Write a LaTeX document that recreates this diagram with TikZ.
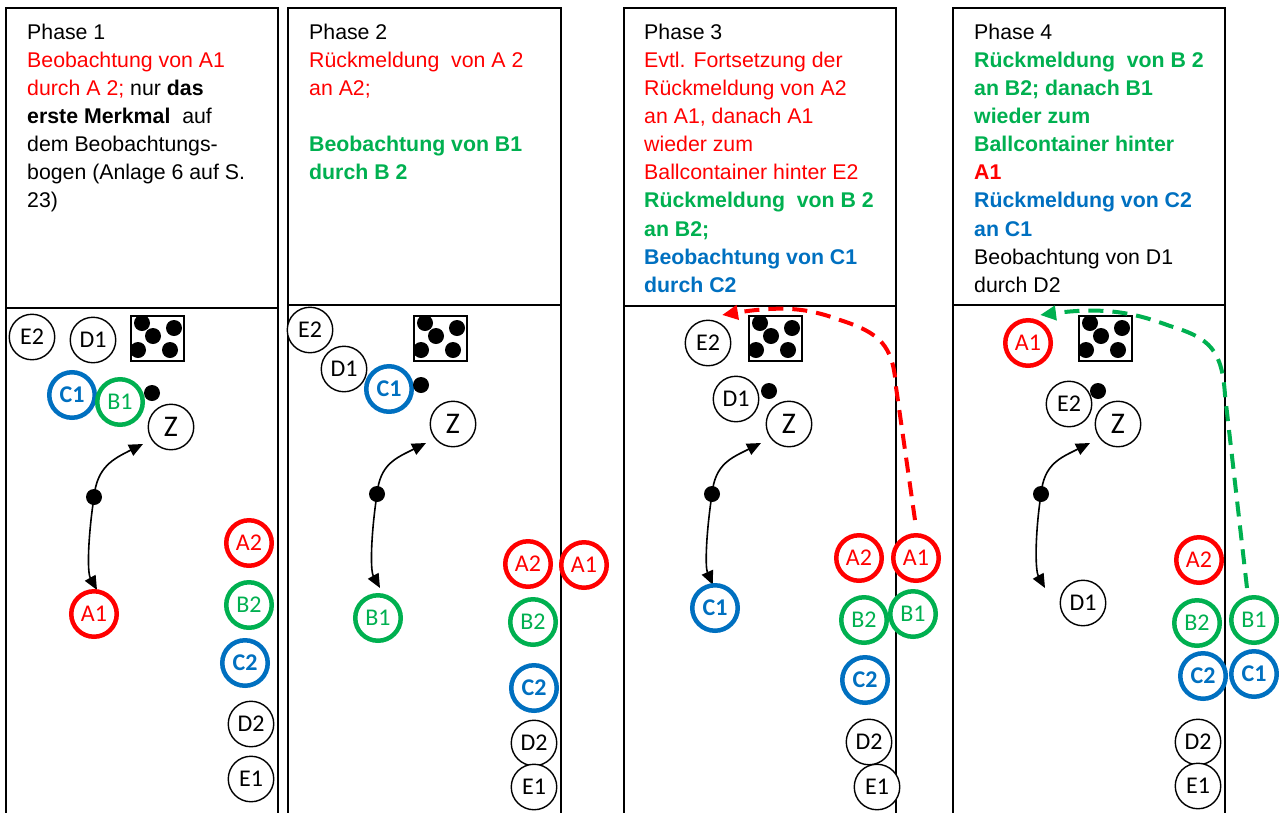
\documentclass[tikz,border=0pt]{standalone}
\usepackage{fontspec}
\setmainfont{Liberation Sans}
\newfontfamily\circfont{Carlito}
\usetikzlibrary{arrows.meta}
\definecolor{tred}{RGB}{255,0,0}
\definecolor{tgreen}{RGB}{0,176,80}
\definecolor{tblue}{RGB}{0,112,192}

% one line of a phase description, k = line number
\newcommand\hdrline[4]{\node[txt] (#1) at (#2,{39.3+28.1*(#3-1)}) {#4};}

\begin{document}
\begin{tikzpicture}[x=1pt,y=-1pt,
  frame/.style={line width=2pt,draw=black},
  txt/.style={anchor=base west,inner sep=0pt,font=\fontsize{21.3}{28}\selectfont},
  pk/.style={circle,draw=black,fill=white,line width=1.4pt,minimum size=45.5pt,inner sep=0pt,
             font=\circfont\fontsize{24}{24}\selectfont},
  pa/.style={pk,draw=tred,text=tred,line width=4.5pt},
  pb/.style={pk,draw=tgreen,text=tgreen,line width=4.5pt},
  pc/.style={pk,draw=tblue,text=tblue,line width=4.5pt,font=\circfont\bfseries\fontsize{24}{24}\selectfont},
  pz/.style={pk,font=\circfont\fontsize{30}{30}\selectfont},
  ball/.style={circle,fill=black,minimum size=16pt,inner sep=0pt},
  boxst/.style={draw=black,fill=white,line width=1.8pt,minimum width=53pt,minimum height=45pt,
                inner sep=0pt,anchor=north west},
  run/.style={line width=1.6pt,-{Triangle[length=14pt,width=12pt]}},
  relay/.style={line width=4pt,dash pattern=on 15pt off 9pt,-{Triangle[length=16pt,width=14pt]}}
]
\useasboundingbox (0,0) rectangle (1279,812);

% ---------- panel frames ----------
\draw[frame] (6,814) -- (6,8) -- (278,8) -- (278,814);
\draw[frame] (6,308) -- (278,308);
\draw[frame] (288,814) -- (288,8) -- (561,8) -- (561,814);
\draw[frame] (288,305) -- (561,305);
\draw[frame] (624,814) -- (624,8) -- (896,8) -- (896,814);
\draw[frame] (624,306) -- (896,306);
\draw[frame] (953,814) -- (953,8) -- (1225,8) -- (1225,814);
\draw[frame] (953,305) -- (1225,305);

% ---------- phase descriptions ----------
\hdrline{t1a}{27}{1}{Phase 1}
\hdrline{t1b}{27}{2}{\color{tred}Beobachtung von A1}
\hdrline{t1c}{27}{3}{{\color{tred}durch A 2;} nur \textbf{das}}
\hdrline{t1d}{27}{4}{\textbf{erste Merkmal}\ \ auf}
\hdrline{t1e}{27}{5}{dem Beobachtungs-}
\hdrline{t1f}{27}{6}{bogen (Anlage 6 auf S.}
\hdrline{t1g}{27}{7}{23)}

\hdrline{t2a}{309}{1}{Phase 2}
\hdrline{t2b}{309}{2}{\color{tred}Rückmeldung\ \ von A 2}
\hdrline{t2c}{309}{3}{\color{tred}an A2;}
\hdrline{t2d}{309}{5}{\color{tgreen}\bfseries Beobachtung von B1}
\hdrline{t2e}{309}{6}{\color{tgreen}\bfseries durch B 2}

\hdrline{t3a}{644}{1}{Phase 3}
\hdrline{t3b}{644}{2}{\color{tred}Evtl. Fortsetzung der}
\hdrline{t3c}{644}{3}{\color{tred}Rückmeldung von A2}
\hdrline{t3d}{644}{4}{\color{tred}an A1, danach A1}
\hdrline{t3e}{644}{5}{\color{tred}wieder zum}
\hdrline{t3f}{644}{6}{\color{tred}Ballcontainer hinter E2}
\hdrline{t3g}{644}{7}{\color{tgreen}\bfseries Rückmeldung\ \ von B 2}
\hdrline{t3h}{644}{8}{\color{tgreen}\bfseries an B2;}
\hdrline{t3i}{644}{9}{\color{tblue}\bfseries Beobachtung von C1}
\hdrline{t3j}{644}{10}{\color{tblue}\bfseries durch C2}

\hdrline{t4a}{974}{1}{Phase 4}
\hdrline{t4b}{974}{2}{\color{tgreen}\bfseries Rückmeldung\ \ von B 2}
\hdrline{t4c}{974}{3}{\color{tgreen}\bfseries an B2; danach B1}
\hdrline{t4d}{974}{4}{\color{tgreen}\bfseries wieder zum}
\hdrline{t4e}{974}{5}{\color{tgreen}\bfseries Ballcontainer hinter}
\hdrline{t4f}{974}{6}{\color{tred}\bfseries A1}
\hdrline{t4g}{974}{7}{\color{tblue}\bfseries Rückmeldung von C2}
\hdrline{t4h}{974}{8}{\color{tblue}\bfseries an C1}
\hdrline{t4i}{974}{9}{Beobachtung von D1}
\hdrline{t4j}{974}{10}{durch D2}

% ---------- ball containers ----------
\foreach \n/\bx in {1/130,2/413,3/748,4/1078}{
  \node[boxst] (box\n) at (\bx,315) {};
  \foreach \dx/\dy in {12/8,44/13,23/21,8/35,40/35}
    \fill ([shift={(\dx,\dy)}]box\n.north west) circle[radius=8pt];
}

% ---------- phase 1 ----------
\node[pk] (p1E2) at (32,337) {E2};
\node[pk] (p1D1) at (93,340) {D1};
\node[pc] (p1C1) at (72,395) {C1};
\node[pb] (p1B1) at (120,402) {B1};
\node[ball] (p1dot) at (152,393) {};
\node[pz] (p1Z) at (171,427) {Z};
\node[ball] (p1run) at (94,497) {};
\coordinate (p1up) at (143,444);
\coordinate (p1dn) at (97,590);
\draw[run] (p1run.center) .. controls +(3,-30) and +(-30,15) .. (p1up);
\draw[run] (p1run.center) .. controls +(-6,40) and +(-10,-18) .. (p1dn);
\node[pa] (p1A1) at (94,614) {A1};
\node[pa] (p1A2) at (249,543) {A2};
\node[pb] (p1B2) at (249,605) {B2};
\node[pc] (p1C2) at (245,663) {C2};
\node[pk] (p1D2) at (251,724) {D2};
\node[pk] (p1E1) at (251,779) {E1};

% ---------- phase 2 ----------
\node[pk] (p2E2) at (310,330) {E2};
\node[pk] (p2D1) at (344,369) {D1};
\node[pc] (p2C1) at (389,389) {C1};
\node[ball] (p2dot) at (421,385) {};
\node[pz] (p2Z) at (453,424) {Z};
\node[ball] (p2run) at (377,494) {};
\coordinate (p2up) at (426,443);
\coordinate (p2dn) at (380,588);
\draw[run] (p2run.center) .. controls +(3,-30) and +(-30,15) .. (p2up);
\draw[run] (p2run.center) .. controls +(-6,40) and +(-10,-18) .. (p2dn);
\node[pb] (p2B1) at (378,618) {B1};
\node[pa] (p2A2) at (528,564) {A2};
\node[pa] (p2A1) at (584,565) {A1};
\node[pb] (p2B2) at (533,622) {B2};
\node[pc] (p2C2) at (534,688) {C2};
\node[pk] (p2D2) at (534,743) {D2};
\node[pk] (p2E1) at (534,787) {E1};

% ---------- phase 3 ----------
\node[pk] (p3E2) at (708,343) {E2};
\node[pk] (p3D1) at (736,399) {D1};
\node[ball] (p3dot) at (769,391) {};
\node[pz] (p3Z) at (789,424) {Z};
\node[ball] (p3run) at (712,494) {};
\coordinate (p3up) at (761,443);
\coordinate (p3dn) at (713,585);
\draw[run] (p3run.center) .. controls +(3,-30) and +(-30,15) .. (p3up);
\draw[run] (p3run.center) .. controls +(-6,40) and +(-8,-18) .. (p3dn);
\node[pc] (p3C1) at (715,608) {C1};
\node[pa] (p3A2) at (859,558) {A2};
\node[pa] (p3A1) at (916,558) {A1};
\node[pb] (p3B2) at (864,620) {B2};
\node[pb] (p3B1) at (913,614) {B1};
\node[pc] (p3C2) at (865,680) {C2};
\node[pk] (p3D2) at (869,742) {D2};
\node[pk] (p3E1) at (877,787) {E1};
\coordinate (p3rs) at (915,520);
\coordinate (p3re) at (722,315);
\draw[relay,tred] (p3rs) -- (896,387) .. controls (893,345) and (880,333) .. (840,320)
  .. controls (815,311) and (790,304) .. (p3re);

% ---------- phase 4 ----------
\node[pa] (p4A1) at (1028,343) {A1};
\node[pk] (p4E2) at (1069,404) {E2};
\node[ball] (p4dot) at (1098,391) {};
\node[pz] (p4Z) at (1118,424) {Z};
\node[ball] (p4run) at (1041,494) {};
\coordinate (p4up) at (1090,443);
\coordinate (p4dn) at (1045,588);
\draw[run] (p4run.center) .. controls +(3,-30) and +(-30,15) .. (p4up);
\draw[run] (p4run.center) .. controls +(-6,40) and +(-10,-18) .. (p4dn);
\node[pk] (p4D1) at (1083,603) {D1};
\node[pa] (p4A2) at (1199,560) {A2};
\node[pb] (p4B2) at (1197,623) {B2};
\node[pb] (p4B1) at (1254,620) {B1};
\node[pc] (p4C2) at (1203,676) {C2};
\node[pc] (p4C1) at (1254,674) {C1};
\node[pk] (p4D2) at (1198,742) {D2};
\node[pk] (p4E1) at (1198,786) {E1};
\coordinate (p4rs) at (1247,588);
\coordinate (p4re) at (1040,315);
\draw[relay,tgreen] (p4rs) -- (1225,395) .. controls (1222,350) and (1210,338) .. (1170,326)
  .. controls (1140,315) and (1110,306) .. (p4re);
\end{tikzpicture}
\end{document}
